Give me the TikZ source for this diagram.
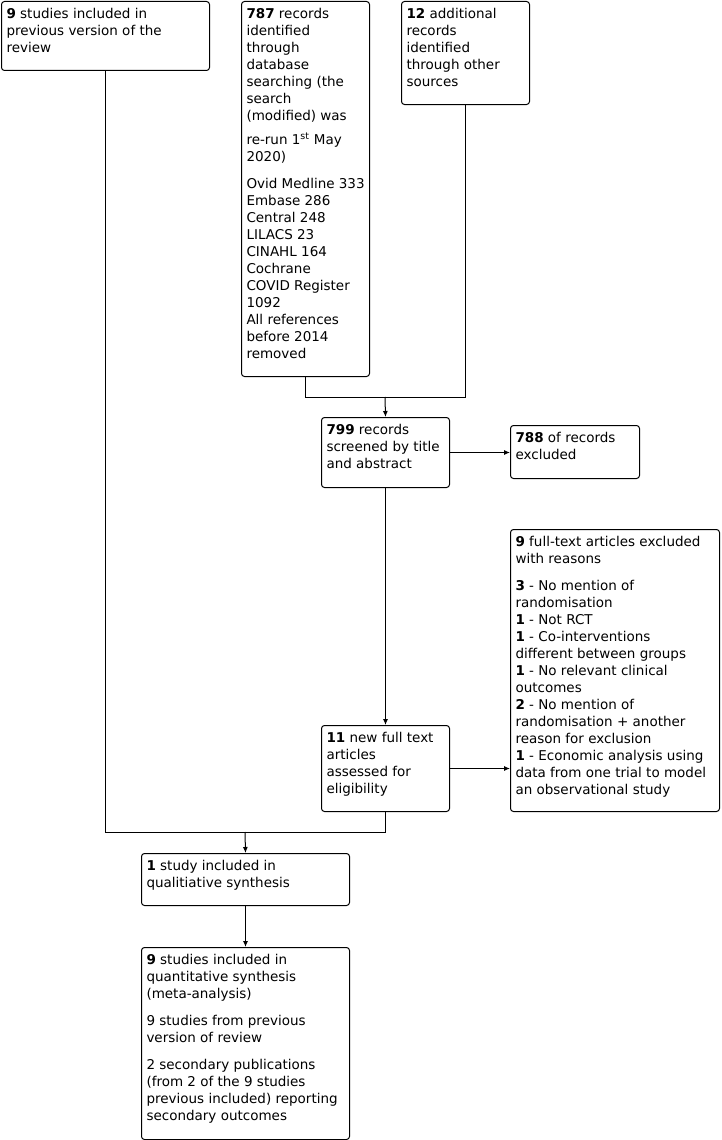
\documentclass[tikz,border=0pt]{standalone}
\usepackage{fontspec}
\setmainfont{DejaVu Sans}
\usetikzlibrary{arrows.meta}
\tikzset{
  box/.style={draw, line width=1pt, rounded corners=3pt, inner xsep=5pt, inner ysep=0pt,
    anchor=north west, font=\fontsize{13.5}{17}\selectfont},
  arr/.style={line width=1pt, -{Latex[length=6pt,width=5pt]}},
  ln/.style={line width=1pt}
}
\newcommand{\btext}[3]{\parbox[t][#2][t]{#1}{\vspace{5pt}\begin{tabular}[t]{@{}l@{}}#3\end{tabular}}}
\begin{document}
\begin{tikzpicture}[x=1pt,y=-1pt]
\useasboundingbox (0,0) rectangle (721,1140);
\node[box] (A) at (1,1) {\btext{198pt}{69pt}{\textbf{9} studies included in\\previous version of the\\review}};
\node[box] (B) at (241,1) {\btext{118pt}{375pt}{\textbf{787} records\\identified\\through\\database\\searching (the\\search\\(modified) was\\[7pt]re-run 1\textsuperscript{st} May\\2020)\\[10pt]Ovid Medline 333\\Embase 286\\Central 248\\LILACS 23\\CINAHL 164\\Cochrane\\COVID Register\\1092\\All references\\before 2014\\removed}};
\node[box] (C) at (401,1) {\btext{118pt}{103pt}{\textbf{12} additional\\records\\identified\\through other\\sources}};
\node[box] (D) at (321,417) {\btext{118pt}{70pt}{\textbf{799} records\\screened by title\\and abstract}};
\node[box] (E) at (510,425) {\btext{119pt}{53pt}{\textbf{788} of records\\excluded}};
\node[box] (F) at (510,529) {\btext{199pt}{282pt}{\textbf{9} full-text articles excluded\\with reasons\\[10pt]\textbf{3} - No mention of\\randomisation\\\textbf{1} - Not RCT\\\textbf{1} - Co-interventions\\different between groups\\\textbf{1} - No relevant clinical\\outcomes\\\textbf{2} - No mention of\\randomisation + another\\reason for exclusion\\\textbf{1} - Economic analysis using\\data from one trial to model\\an observational study}};
\node[box] (G) at (321,725) {\btext{118pt}{86pt}{\textbf{11} new full text\\articles\\assessed for\\eligibility}};
\node[box] (H) at (141,853) {\btext{198pt}{52pt}{\textbf{1} study included in\\qualitiative synthesis}};
\node[box] (I) at (141,947) {\btext{198pt}{192pt}{\textbf{9} studies included in\\quantitative synthesis\\(meta-analysis)\\[10pt]9 studies from previous\\version of review\\[10pt]2 secondary publications\\(from 2 of the 9 studies\\previous included) reporting\\secondary outcomes}};
\coordinate (j1) at (385,397);
\coordinate (j2) at (245,832);
\draw[ln] (B.south) |- (C.south |- j1) -- (C.south);
\draw[arr] (j1) -- (D.north);
\draw[arr] (D.east) -- (D.east -| E.west);
\draw[arr] (D.south) -- (G.north);
\draw[arr] (G.east) -- (G.east -| F.west);
\draw[ln] (A.south) |- (G.south |- j2) -- (G.south);
\draw[arr] (j2) -- (H.north);
\draw[arr] (H.south) -- (I.north);
\end{tikzpicture}
\end{document}
